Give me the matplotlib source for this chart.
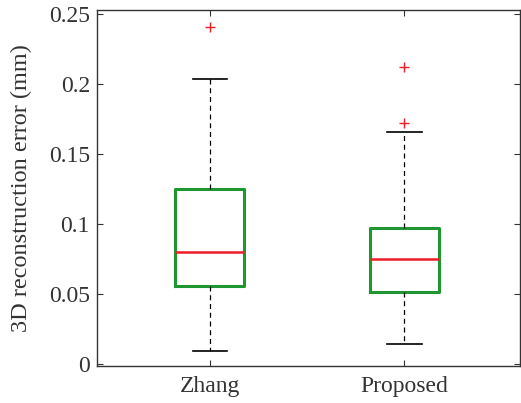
import numpy as np
import matplotlib
matplotlib.use("Agg")
import matplotlib.pyplot as plt

# Box statistics (mm)
methods = ["Zhang", "Proposed"]
q1 = [0.056, 0.0512]
medians = [0.0802, 0.075]
q3 = [0.125, 0.0969]
whisker_low = [0.0093, 0.0145]
whisker_high = [0.2036, 0.166]
outliers = [[0.241], [0.212, 0.172]]


def main():
    plt.rcParams["font.family"] = ["Liberation Serif", "DejaVu Serif"]
    fig = plt.figure(figsize=(5.21, 4.03), dpi=100)
    ax = fig.add_axes([0.186, 0.092, 0.812, 0.884])

    stats = []
    for i, name in enumerate(methods):
        stats.append(dict(label=name, q1=q1[i], med=medians[i], q3=q3[i],
                          whislo=whisker_low[i], whishi=whisker_high[i],
                          fliers=outliers[i]))

    green = "#1e9632"
    red = "#ee1c25"
    ax.bxp(stats, positions=[1, 2], widths=0.355,
           boxprops=dict(color=green, linewidth=2.2),
           medianprops=dict(color=red, linewidth=1.8),
           whiskerprops=dict(color="black", linewidth=0.9, linestyle=(0, (4, 3))),
           capprops=dict(color="black", linewidth=1.2),
           flierprops=dict(marker="+", markeredgecolor=red, markersize=7,
                           markeredgewidth=1.0, linestyle="none"))

    ax.set_xlim(0.419, 2.594)
    ax.set_ylim(-0.0014, 0.2531)
    ax.set_yticks([0, 0.05, 0.1, 0.15, 0.2, 0.25])
    ax.set_yticklabels(["0", "0.05", "0.1", "0.15", "0.2", "0.25"])
    ax.set_xticks([1, 2])
    ax.set_xticklabels(methods)
    ax.tick_params(direction="in", length=4, width=0.8, top=True, right=True,
                   labelsize=17, colors="#333333", pad=7)
    ax.tick_params(axis="y", pad=5)
    for s in ax.spines.values():
        s.set_color("#333333")
        s.set_linewidth(1.0)
    ax.set_ylabel("3D reconstruction error (mm)", fontsize=17.5, color="#333333",
                  labelpad=12)

    fig.savefig("out.png", dpi=100)


if __name__ == "__main__":
    main()
